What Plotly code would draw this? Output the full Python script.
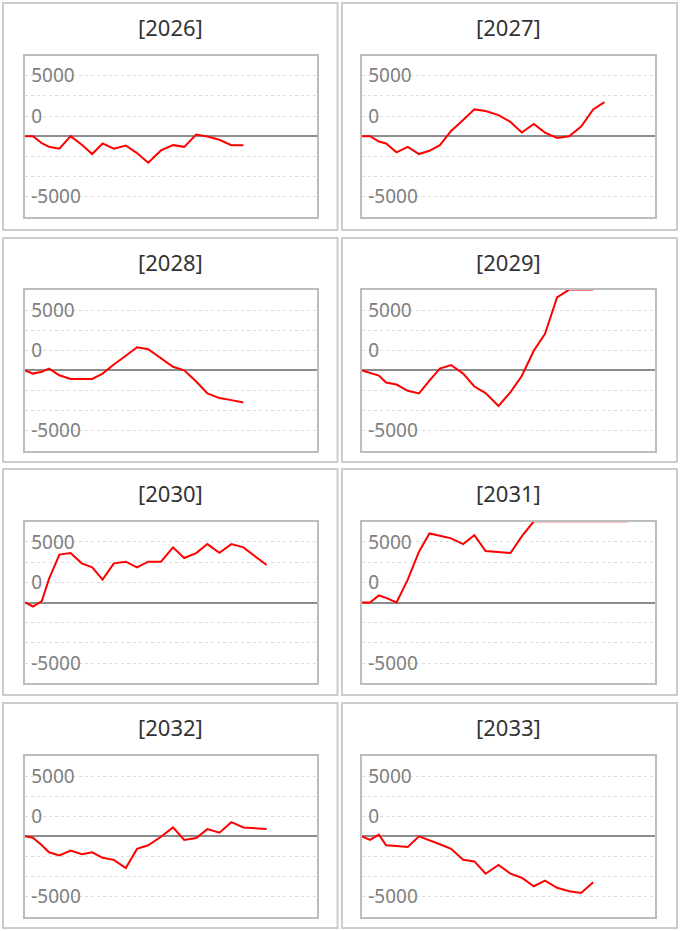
import plotly.graph_objects as go

# ---------------- data ----------------
YEARS = ["2026", "2027", "2028", "2029", "2030", "2031", "2032", "2033"]
# day-of-year positions of the observations (shared grid)
DAYS = [0, 10, 21, 30, 43, 57, 71, 84, 97, 111, 126, 140, 154, 170, 185,
        199, 214, 228, 243, 258, 273, 288, 302, 316, 331]

Y2026 = [0, 0, -580, -880, -1040, 0, -710, -1480, -600, -1040, -770, -1400,
         -2190, -1180, -740, -880, 140, -30, -300, -740, -740]
Y2027 = [0, 0, -440, -600, -1340, -880, -1480, -1210, -740, 440, 1340, 2220,
         2080, 1750, 1180, 300, 1010, 300, -140, 0, 800, 2220, 2820]
Y2028 = [0, -270, -110, 140, -410, -710, -710, -710, -270, 490, 1210, 1920,
         1750, 1040, 300, 0, -930, -1920, -2300, -2470, -2660]
Y2029 = [0, -220, -440, -1010, -1180, -1700, -1920, -850, 140, 440, -270,
         -1340, -1890, -2960, -1810, -470, 1620, 3040, 6050, 6700, 6700, 6700]
Y2030 = [0, -330, 110, 1950, 3950, 4080, 3230, 2900, 1890, 3230, 3370, 2900,
         3370, 3370, 4550, 3670, 4080, 4820, 4110, 4820, 4550, 3780, 3100]
Y2031 = [0, 0, 580, 380, 0, 1890, 4190, 5700, 5510, 5290, 4820, 5560, 4250,
         4170, 4080, 5450, 6700, 6700, 6700, 6700, 6700, 6700, 6700, 6700, 6700]
Y2032 = [0, -110, -740, -1320, -1590, -1180, -1480, -1320, -1780, -1950,
         -2630, -1040, -740, -30, 740, -300, -140, 600, 300, 1180, 740, 690, 600]
Y2033 = [0, -300, 140, -740, -800, -880, 0, -300, -660, -1040, -1950, -2080,
         -3100, -2380, -3100, -3430, -4140, -3670, -4270, -4550, -4690, -3810]

SERIES = [Y2026, Y2027, Y2028, Y2029, Y2030, Y2031, Y2032, Y2033]
TICK_LABELS = {5000: "5000", 5000 / 3: "0", -5000: "-5000"}

# ---------------- layout ----------------
W, H = 680, 931
COL_X = [(25, 317), (362, 655)]
ROW_Y = [(55.7, 216.7), (290, 450.7), (521.7, 683.3), (756, 916.7)]
BOX_X = [(3, 337.5), (342, 677)]
BOX_Y = [(3, 230), (238, 462), (469, 695), (703, 928)]
TITLE_Y = [27, 261.7, 492.7, 726.7]
TITLE_X = [170.5, 508.5]

YR = 20000 / 3
tickvals = [k * 5000 / 3 for k in range(-4, 5)]
ticktext = []
for v in tickvals:
    lab = ""
    for key, t in TICK_LABELS.items():
        if abs(v - key) < 1:
            lab = t
    ticktext.append(lab)

fig = go.Figure()
layout = dict(width=W, height=H, margin=dict(l=0, r=0, t=0, b=0),
              paper_bgcolor="white", plot_bgcolor="white", showlegend=False,
              font=dict(family="Noto Sans, Open Sans, sans-serif"))
shapes = []
annotations = []

for i, (yr, ys) in enumerate(zip(YEARS, SERIES)):
    r, c = divmod(i, 2)
    n = i + 1
    xa = "x" if n == 1 else f"x{n}"
    ya = "y" if n == 1 else f"y{n}"
    fig.add_trace(go.Scatter(x=DAYS[:len(ys)], y=ys, mode="lines",
                             line=dict(color="#ff0000", width=2),
                             xaxis=xa, yaxis=ya, hoverinfo="skip"))
    x0, x1 = COL_X[c]
    y0, y1 = ROW_Y[r]
    layout[f"xaxis{n}" if n > 1 else "xaxis"] = dict(
        domain=[x0 / W, x1 / W], anchor=ya, range=[0, 365],
        showgrid=False, zeroline=False, showticklabels=False, ticks="",
        showline=True, mirror=True, linecolor="#bdbdbd", linewidth=2,
        fixedrange=True)
    layout[f"yaxis{n}" if n > 1 else "yaxis"] = dict(
        domain=[1 - y1 / H, 1 - y0 / H], anchor=xa, range=[-YR, YR],
        tickmode="array", tickvals=tickvals, ticktext=ticktext,
        ticklabelposition="inside", ticks="", ticklabelstandoff=7,
        tickfont=dict(size=19, color="#808080"),
        showgrid=True, gridcolor="#dcdcdc", griddash="dot", gridwidth=1,
        zeroline=True, zerolinecolor="#8c8c8c", zerolinewidth=2,
        showline=True, mirror=True, linecolor="#bdbdbd", linewidth=2,
        fixedrange=True)
    bx0, bx1 = BOX_X[c]
    by0, by1 = BOX_Y[r]
    shapes.append(dict(type="rect", xref="paper", yref="paper",
                       x0=bx0 / W, x1=bx1 / W, y0=1 - by1 / H, y1=1 - by0 / H,
                       line=dict(color="#cccccc", width=2), layer="below"))
    annotations.append(dict(text=f"[{yr}]", xref="paper", yref="paper",
                            x=TITLE_X[c] / W, y=1 - TITLE_Y[r] / H,
                            xanchor="center", yanchor="middle", showarrow=False,
                            font=dict(size=22, color="#333333")))

layout["shapes"] = shapes
layout["annotations"] = annotations
fig.update_layout(**layout)

fig.write_html("out.html", config={"displayModeBar": False},
               post_script="document.body.style.margin='0';")
